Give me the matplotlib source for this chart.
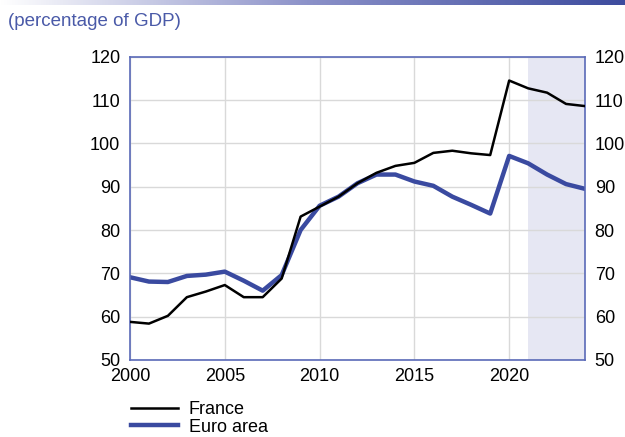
import numpy as np
import matplotlib
matplotlib.use('Agg')
import matplotlib.pyplot as plt

plt.rcParams['font.family'] = ['Liberation Sans', 'DejaVu Sans']

years = list(range(2000, 2025))
france = [58.8, 58.4, 60.2, 64.5, 65.8, 67.3, 64.5, 64.5, 68.8, 83.1,
          85.4, 87.7, 90.8, 93.2, 94.8, 95.5, 97.8, 98.3, 97.7, 97.3,
          114.5, 112.7, 111.7, 109.1, 108.6]
euro_area = [69.1, 68.1, 68.0, 69.4, 69.7, 70.4, 68.3, 66.0, 69.6, 80.0,
             85.6, 87.7, 90.8, 92.8, 92.8, 91.2, 90.2, 87.7, 85.8, 83.8,
             97.1, 95.4, 92.8, 90.6, 89.5]
forecast_start = 2021
yticks = [50, 60, 70, 80, 90, 100, 110, 120]
xticks = [2000, 2005, 2010, 2015, 2020]

blue = '#3a4aa0'
frame_blue = '#5a6ab8'

fig = plt.figure(figsize=(6.25, 4.37), dpi=100)

# gradient bar at the top
bar = fig.add_axes([0, 1 - 5 / 437, 1, 5 / 437])
grad = np.linspace(0, 1, 256).reshape(1, -1)
cmap = matplotlib.colors.LinearSegmentedColormap.from_list('g', ['#ffffff', '#8a90c8', '#3d4c9e'])
bar.imshow(grad, aspect='auto', cmap=cmap)
bar.axis('off')

fig.text(0.012, 1 - 21 / 437, '(percentage of GDP)', color='#4a5aa8', fontsize=13.5, va='center')

ax = fig.add_axes([130 / 625, 77 / 437, 455 / 625, 303.3 / 437])
ax.axvspan(forecast_start, years[-1], color='#e6e7f3', lw=0, zorder=0)
ax.plot(years, france, color='black', lw=1.8, label='France', zorder=3)
ax.plot(years, euro_area, color=blue, lw=3.2, label='Euro area', zorder=2)

ax.set_xlim(2000, 2024)
ax.set_ylim(50, 120)
ax.set_xticks(xticks)
ax.set_yticks(yticks)
ax.grid(True, color='#d9d9d9', lw=1, zorder=1)
ax.set_axisbelow(True)
ax.tick_params(axis='y', length=0, labelsize=13, labelright=True, pad=7)
ax.tick_params(axis='x', length=0, labelsize=13, pad=6)
for s in ax.spines.values():
    s.set_color(frame_blue)
    s.set_linewidth(1.2)

ax.legend(loc='upper left', bbox_to_anchor=(124 / 625, (437 - 394) / 437),
          bbox_transform=fig.transFigure, frameon=False, fontsize=13,
          handlelength=2.6, handletextpad=0.6, labelspacing=0.02, borderaxespad=0)

fig.savefig('out.png', dpi=100)
